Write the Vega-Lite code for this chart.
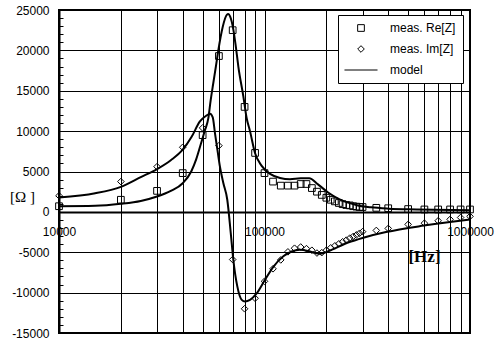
{
  "$schema": "https://vega.github.io/schema/vega-lite/v6.json",
  "width": 411,
  "height": 323,
  "autosize": "none",
  "padding": {"left": 59, "top": 10, "right": 26, "bottom": 12},
  "background": "white",
  "config": {
    "view": {"stroke": "black", "strokeWidth": 2},
    "font": "Liberation Sans",
    "legend": {
      "orient": "none", "legendX": 279, "legendY": 5,
      "strokeColor": "black", "fillColor": "white", "padding": 7,
      "rowPadding": 9, "labelOffset": 23, "symbolOffset": 10,
      "labelFontSize": 12, "labelFont": "Liberation Sans", "labelColor": "black",
      "symbolStrokeColor": "black", "symbolFillColor": "transparent"
    }
  },
  "datasets": {
    "points": [
      {"f": 10000, "v": 700, "series": "meas. Re[Z]"},
      {"f": 20000, "v": 1500, "series": "meas. Re[Z]"},
      {"f": 30000, "v": 2600, "series": "meas. Re[Z]"},
      {"f": 40000, "v": 4800, "series": "meas. Re[Z]"},
      {"f": 50000, "v": 9500, "series": "meas. Re[Z]"},
      {"f": 60000, "v": 19300, "series": "meas. Re[Z]"},
      {"f": 70000, "v": 22500, "series": "meas. Re[Z]"},
      {"f": 80000, "v": 13000, "series": "meas. Re[Z]"},
      {"f": 90000, "v": 7300, "series": "meas. Re[Z]"},
      {"f": 100000, "v": 4800, "series": "meas. Re[Z]"},
      {"f": 110000, "v": 3750, "series": "meas. Re[Z]"},
      {"f": 120000, "v": 3250, "series": "meas. Re[Z]"},
      {"f": 130000, "v": 3250, "series": "meas. Re[Z]"},
      {"f": 140000, "v": 3250, "series": "meas. Re[Z]"},
      {"f": 150000, "v": 3450, "series": "meas. Re[Z]"},
      {"f": 160000, "v": 3450, "series": "meas. Re[Z]"},
      {"f": 170000, "v": 2950, "series": "meas. Re[Z]"},
      {"f": 180000, "v": 2500, "series": "meas. Re[Z]"},
      {"f": 190000, "v": 2100, "series": "meas. Re[Z]"},
      {"f": 200000, "v": 1750, "series": "meas. Re[Z]"},
      {"f": 210000, "v": 1500, "series": "meas. Re[Z]"},
      {"f": 220000, "v": 1300, "series": "meas. Re[Z]"},
      {"f": 230000, "v": 1100, "series": "meas. Re[Z]"},
      {"f": 240000, "v": 950, "series": "meas. Re[Z]"},
      {"f": 250000, "v": 850, "series": "meas. Re[Z]"},
      {"f": 260000, "v": 800, "series": "meas. Re[Z]"},
      {"f": 270000, "v": 700, "series": "meas. Re[Z]"},
      {"f": 280000, "v": 650, "series": "meas. Re[Z]"},
      {"f": 290000, "v": 600, "series": "meas. Re[Z]"},
      {"f": 300000, "v": 600, "series": "meas. Re[Z]"},
      {"f": 350000, "v": 500, "series": "meas. Re[Z]"},
      {"f": 400000, "v": 450, "series": "meas. Re[Z]"},
      {"f": 500000, "v": 350, "series": "meas. Re[Z]"},
      {"f": 600000, "v": 300, "series": "meas. Re[Z]"},
      {"f": 700000, "v": 300, "series": "meas. Re[Z]"},
      {"f": 800000, "v": 300, "series": "meas. Re[Z]"},
      {"f": 900000, "v": 300, "series": "meas. Re[Z]"},
      {"f": 1000000, "v": 300, "series": "meas. Re[Z]"},
      {"f": 10000, "v": 2000, "series": "meas. Im[Z]"},
      {"f": 20000, "v": 3750, "series": "meas. Im[Z]"},
      {"f": 30000, "v": 5600, "series": "meas. Im[Z]"},
      {"f": 40000, "v": 8000, "series": "meas. Im[Z]"},
      {"f": 50000, "v": 10400, "series": "meas. Im[Z]"},
      {"f": 60000, "v": 8200, "series": "meas. Im[Z]"},
      {"f": 70000, "v": -5900, "series": "meas. Im[Z]"},
      {"f": 80000, "v": -12000, "series": "meas. Im[Z]"},
      {"f": 90000, "v": -10700, "series": "meas. Im[Z]"},
      {"f": 100000, "v": -8600, "series": "meas. Im[Z]"},
      {"f": 110000, "v": -7050, "series": "meas. Im[Z]"},
      {"f": 120000, "v": -5950, "series": "meas. Im[Z]"},
      {"f": 130000, "v": -4950, "series": "meas. Im[Z]"},
      {"f": 140000, "v": -4500, "series": "meas. Im[Z]"},
      {"f": 150000, "v": -4350, "series": "meas. Im[Z]"},
      {"f": 160000, "v": -4550, "series": "meas. Im[Z]"},
      {"f": 170000, "v": -4750, "series": "meas. Im[Z]"},
      {"f": 180000, "v": -5100, "series": "meas. Im[Z]"},
      {"f": 190000, "v": -5050, "series": "meas. Im[Z]"},
      {"f": 200000, "v": -4750, "series": "meas. Im[Z]"},
      {"f": 210000, "v": -4450, "series": "meas. Im[Z]"},
      {"f": 220000, "v": -4200, "series": "meas. Im[Z]"},
      {"f": 230000, "v": -3950, "series": "meas. Im[Z]"},
      {"f": 240000, "v": -3700, "series": "meas. Im[Z]"},
      {"f": 250000, "v": -3500, "series": "meas. Im[Z]"},
      {"f": 260000, "v": -3250, "series": "meas. Im[Z]"},
      {"f": 270000, "v": -3050, "series": "meas. Im[Z]"},
      {"f": 280000, "v": -2850, "series": "meas. Im[Z]"},
      {"f": 290000, "v": -2650, "series": "meas. Im[Z]"},
      {"f": 300000, "v": -2450, "series": "meas. Im[Z]"},
      {"f": 350000, "v": -2300, "series": "meas. Im[Z]"},
      {"f": 400000, "v": -2050, "series": "meas. Im[Z]"},
      {"f": 500000, "v": -1550, "series": "meas. Im[Z]"},
      {"f": 600000, "v": -1400, "series": "meas. Im[Z]"},
      {"f": 700000, "v": -1100, "series": "meas. Im[Z]"},
      {"f": 800000, "v": -930, "series": "meas. Im[Z]"},
      {"f": 900000, "v": -700, "series": "meas. Im[Z]"},
      {"f": 1000000, "v": -560, "series": "meas. Im[Z]"}
    ],
    "model": [
      {"f": 10000, "v": 700, "curve": "Re"},
      {"f": 15000, "v": 750, "curve": "Re"},
      {"f": 20000, "v": 1000, "curve": "Re"},
      {"f": 25000, "v": 1350, "curve": "Re"},
      {"f": 30000, "v": 1900, "curve": "Re"},
      {"f": 35000, "v": 2600, "curve": "Re"},
      {"f": 40000, "v": 3550, "curve": "Re"},
      {"f": 44000, "v": 5000, "curve": "Re"},
      {"f": 46500, "v": 6500, "curve": "Re"},
      {"f": 49000, "v": 8400, "curve": "Re"},
      {"f": 51300, "v": 10100, "curve": "Re"},
      {"f": 53300, "v": 11600, "curve": "Re"},
      {"f": 54700, "v": 13800, "curve": "Re"},
      {"f": 56300, "v": 15900, "curve": "Re"},
      {"f": 58000, "v": 18000, "curve": "Re"},
      {"f": 59600, "v": 20000, "curve": "Re"},
      {"f": 62600, "v": 22900, "curve": "Re"},
      {"f": 65500, "v": 24400, "curve": "Re"},
      {"f": 66700, "v": 24500, "curve": "Re"},
      {"f": 68000, "v": 24200, "curve": "Re"},
      {"f": 70500, "v": 22600, "curve": "Re"},
      {"f": 72500, "v": 20500, "curve": "Re"},
      {"f": 74600, "v": 18000, "curve": "Re"},
      {"f": 78900, "v": 14300, "curve": "Re"},
      {"f": 81900, "v": 11600, "curve": "Re"},
      {"f": 85000, "v": 10000, "curve": "Re"},
      {"f": 89900, "v": 7300, "curve": "Re"},
      {"f": 96900, "v": 5700, "curve": "Re"},
      {"f": 106400, "v": 4700, "curve": "Re"},
      {"f": 119000, "v": 4200, "curve": "Re"},
      {"f": 133000, "v": 4050, "curve": "Re"},
      {"f": 150000, "v": 4150, "curve": "Re"},
      {"f": 165000, "v": 4150, "curve": "Re"},
      {"f": 182000, "v": 3400, "curve": "Re"},
      {"f": 204000, "v": 2400, "curve": "Re"},
      {"f": 228000, "v": 1650, "curve": "Re"},
      {"f": 255000, "v": 1150, "curve": "Re"},
      {"f": 285000, "v": 800, "curve": "Re"},
      {"f": 330000, "v": 560, "curve": "Re"},
      {"f": 400000, "v": 400, "curve": "Re"},
      {"f": 550000, "v": 300, "curve": "Re"},
      {"f": 1000000, "v": 200, "curve": "Re"},
      {"f": 10000, "v": 1770, "curve": "Im"},
      {"f": 15000, "v": 2300, "curve": "Im"},
      {"f": 20000, "v": 3100, "curve": "Im"},
      {"f": 25000, "v": 4300, "curve": "Im"},
      {"f": 30000, "v": 5300, "curve": "Im"},
      {"f": 35000, "v": 6400, "curve": "Im"},
      {"f": 40000, "v": 7700, "curve": "Im"},
      {"f": 44200, "v": 9300, "curve": "Im"},
      {"f": 48500, "v": 11200, "curve": "Im"},
      {"f": 52000, "v": 11900, "curve": "Im"},
      {"f": 54300, "v": 12150, "curve": "Im"},
      {"f": 56000, "v": 11700, "curve": "Im"},
      {"f": 57400, "v": 9750, "curve": "Im"},
      {"f": 59000, "v": 7700, "curve": "Im"},
      {"f": 60700, "v": 5600, "curve": "Im"},
      {"f": 63000, "v": 3600, "curve": "Im"},
      {"f": 65900, "v": 1500, "curve": "Im"},
      {"f": 68500, "v": -2600, "curve": "Im"},
      {"f": 70500, "v": -5900, "curve": "Im"},
      {"f": 73700, "v": -9200, "curve": "Im"},
      {"f": 77500, "v": -10900, "curve": "Im"},
      {"f": 80400, "v": -11100, "curve": "Im"},
      {"f": 85000, "v": -10900, "curve": "Im"},
      {"f": 91600, "v": -10100, "curve": "Im"},
      {"f": 100600, "v": -8400, "curve": "Im"},
      {"f": 110400, "v": -6800, "curve": "Im"},
      {"f": 123500, "v": -5500, "curve": "Im"},
      {"f": 135600, "v": -4900, "curve": "Im"},
      {"f": 148800, "v": -4700, "curve": "Im"},
      {"f": 166500, "v": -4900, "curve": "Im"},
      {"f": 186000, "v": -5200, "curve": "Im"},
      {"f": 200800, "v": -4950, "curve": "Im"},
      {"f": 255000, "v": -3800, "curve": "Im"},
      {"f": 302600, "v": -3200, "curve": "Im"},
      {"f": 390000, "v": -2500, "curve": "Im"},
      {"f": 597000, "v": -1700, "curve": "Im"},
      {"f": 799000, "v": -1250, "curve": "Im"},
      {"f": 1000000, "v": -950, "curve": "Im"}
    ]
  },
  "layer": [
    {
      "data": {"name": "model"},
      "mark": {"type": "line", "color": "black", "strokeWidth": 2, "interpolate": "monotone"},
      "encoding": {
        "x": {
          "field": "f", "type": "quantitative",
          "scale": {"type": "log", "domain": [10000, 1000000], "nice": false},
          "axis": {
            "orient": "bottom", "offset": -121,
            "values": [10000, 20000, 30000, 40000, 50000, 60000, 70000, 80000, 90000, 100000, 200000, 300000, 400000, 500000, 600000, 700000, 800000, 900000, 1000000],
            "labelExpr": "(datum.value == 10000 || datum.value == 100000 || datum.value == 1000000) ? '' + datum.value : ''",
            "labelFlush": false, "labelOverlap": false, "labelBound": false,
            "labelFontSize": 12, "labelColor": "black", "labelPadding": 10,
            "grid": true, "gridColor": "black", "gridWidth": 1, "gridOpacity": 1,
            "ticks": true, "tickSize": 4, "tickColor": "black",
            "domain": true, "domainColor": "black", "domainWidth": 2,
            "title": "[Hz]", "titleFont": "Liberation Serif", "titleFontSize": 17, "titleFontWeight": "bold",
            "titleColor": "black", "titleX": 365, "titleY": 44, "titleAlign": "center", "titleBaseline": "middle", "titleAngle": 0
          }
        },
        "y": {
          "field": "v", "type": "quantitative",
          "scale": {"domain": [-15000, 25000], "nice": false, "zero": false},
          "axis": {
            "orient": "left",
            "values": [-15000, -10000, -5000, 0, 5000, 10000, 15000, 20000, 25000],
            "labelExpr": "'' + datum.value",
            "labelFlush": false, "labelOverlap": false, "labelBound": false,
            "labelFontSize": 12, "labelColor": "black", "labelPadding": 10,
            "grid": true, "gridColor": "black", "gridWidth": 1, "gridOpacity": 1,
            "ticks": false, "tickSize": 0,
            "domain": true, "domainColor": "black", "domainWidth": 2,
            "title": "[Ω ]", "titleFont": "Liberation Serif", "titleFontSize": 15, "titleFontWeight": "normal",
            "titleColor": "black", "titleX": -37, "titleY": 186, "titleAlign": "center", "titleBaseline": "middle", "titleAngle": 0
          }
        },
        "detail": {"field": "curve", "type": "nominal"}
      }
    },
    {
      "data": {"name": "points"},
      "mark": {"type": "point", "filled": false, "color": "black", "opacity": 1},
      "encoding": {
        "x": {"field": "f", "type": "quantitative"},
        "y": {
          "field": "v", "type": "quantitative",
          "axis": {
            "orient": "left",
            "values": [-15000, -14000, -13000, -12000, -11000, -10000, -9000, -8000, -7000, -6000, -5000, -4000, -3000, -2000, -1000, 0, 1000, 2000, 3000, 4000, 5000, 6000, 7000, 8000, 9000, 10000, 11000, 12000, 13000, 14000, 15000, 16000, 17000, 18000, 19000, 20000, 21000, 22000, 23000, 24000, 25000],
            "labels": false, "grid": false, "domain": false,
            "ticks": true, "tickSize": -4, "tickColor": "black", "tickWidth": 1,
            "title": null
          }
        },
        "shape": {
          "field": "series", "type": "nominal",
          "scale": {"domain": ["meas. Re[Z]", "meas. Im[Z]", "model"], "range": ["square", "diamond", "M-5.1,0H5.1"]},
          "legend": {"title": null}
        },
        "size": {
          "field": "series", "type": "nominal",
          "scale": {"domain": ["meas. Re[Z]", "meas. Im[Z]", "model"], "range": [45, 42, 45]},
          "legend": {"title": null}
        },
        "strokeWidth": {
          "field": "series", "type": "nominal",
          "scale": {"domain": ["meas. Re[Z]", "meas. Im[Z]", "model"], "range": [1, 1, 2]},
          "legend": {"title": null}
        }
      }
    }
  ],
  "resolve": {"axis": {"y": "independent"}}
}
